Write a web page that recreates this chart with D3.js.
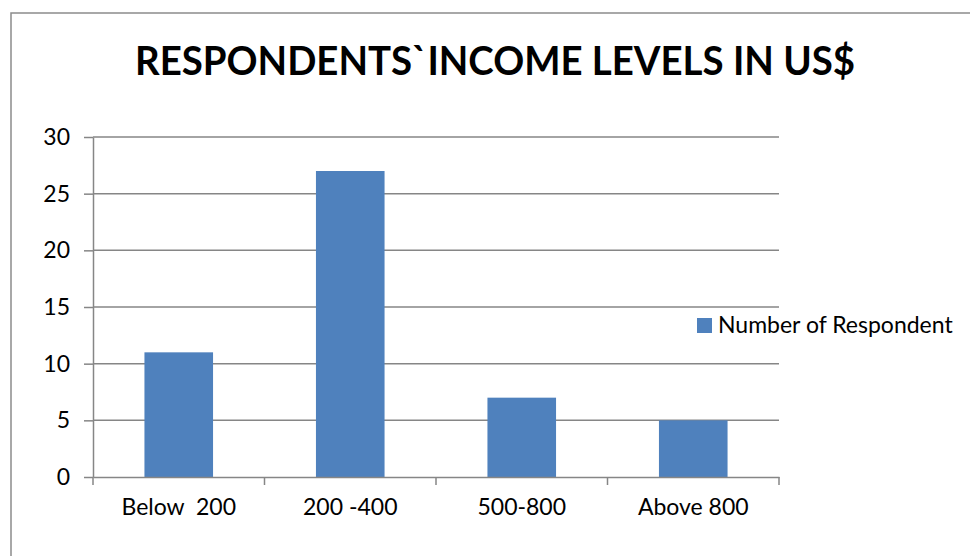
<!DOCTYPE html>
<html><head><meta charset="utf-8">
<script src="https://cdn.jsdelivr.net/npm/d3@7"></script>
<style>body{margin:0;background:#fff}svg{display:block}text{font-family:Lato,"Open Sans",sans-serif;white-space:pre}</style>
</head><body><svg id="c" width="970" height="556"></svg>
<script>
const categories = ["Below  200", "200 -400", "500-800", "Above 800"];
const values = [11, 27, 7, 5];
const seriesName = "Number of Respondent";
const yTicks = [0, 5, 10, 15, 20, 25, 30];
const titleText = "RESPONDENTS`INCOME LEVELS IN US$";

const svg = d3.select("#c");
const color = "#4F81BD", grid = "#868686";
// outer frame
svg.append("rect").attr("x", 11).attr("y", 13).attr("width", 975).attr("height", 560)
  .attr("fill", "none").attr("stroke", "#8c8c8c").attr("stroke-width", 1.5);

const m = {l: 93, r: 779, t: 137, b: 477};
const x = d3.scaleBand().domain(categories).range([m.l, m.r]).paddingInner(0).paddingOuter(0);
const y = d3.scaleLinear().domain([0, 30]).range([m.b, m.t]);

// gridlines
svg.append("g").selectAll("line").data(yTicks.filter(d => d > 0)).join("line")
  .attr("x1", m.l).attr("x2", m.r).attr("y1", d => y(d)).attr("y2", d => y(d))
  .attr("stroke", grid).attr("stroke-width", 1.5);

// bars
const bw = x.bandwidth() * 0.4;
svg.append("g").selectAll("rect").data(values).join("rect")
  .attr("x", (d, i) => x(categories[i]) + (x.bandwidth() - bw) / 2)
  .attr("width", bw)
  .attr("y", d => y(d)).attr("height", d => y(0) - y(d))
  .attr("fill", color);

// y axis
const ya = d3.axisLeft(y).tickValues(yTicks).tickSize(9).tickPadding(14).tickSizeOuter(0);
const gy = svg.append("g").attr("transform", `translate(${m.l},0)`).call(ya);
gy.select(".domain").attr("stroke", grid).attr("stroke-width", 1.5);
gy.selectAll(".tick line").attr("stroke", grid).attr("stroke-width", 1.5);
gy.selectAll("text").attr("font-size", 23).attr("fill", "#000").attr("font-family", "Lato, sans-serif");

// x axis
const xa = d3.axisBottom(x).tickSize(0).tickPadding(22).tickSizeOuter(0);
const gx = svg.append("g").attr("transform", `translate(0,${m.b})`).call(xa);
gx.select(".domain").attr("stroke", grid).attr("stroke-width", 1.5);
gx.selectAll("text").attr("font-size", 23).attr("fill", "#000").attr("font-family", "Lato, sans-serif")
  .attr("xml:space", "preserve");
// x boundary ticks
const bounds = categories.map(c => x(c)).concat([m.r]);
svg.append("g").selectAll("line").data(bounds).join("line")
  .attr("x1", d => d).attr("x2", d => d).attr("y1", m.b).attr("y2", m.b + 8)
  .attr("stroke", grid).attr("stroke-width", 1.5);

// title
svg.append("text").attr("x", 495).attr("y", 75).attr("text-anchor", "middle")
  .attr("font-size", 40).attr("font-weight", "bold").attr("fill", "#000")
  .attr("textLength", 720).attr("lengthAdjust", "spacingAndGlyphs")
  .text(titleText);

// legend
svg.append("rect").attr("x", 697).attr("y", 318).attr("width", 15).attr("height", 15).attr("fill", color);
svg.append("text").attr("x", 718).attr("y", 333).attr("font-size", 23).attr("fill", "#000")
  .text(seriesName);
</script></body></html>
